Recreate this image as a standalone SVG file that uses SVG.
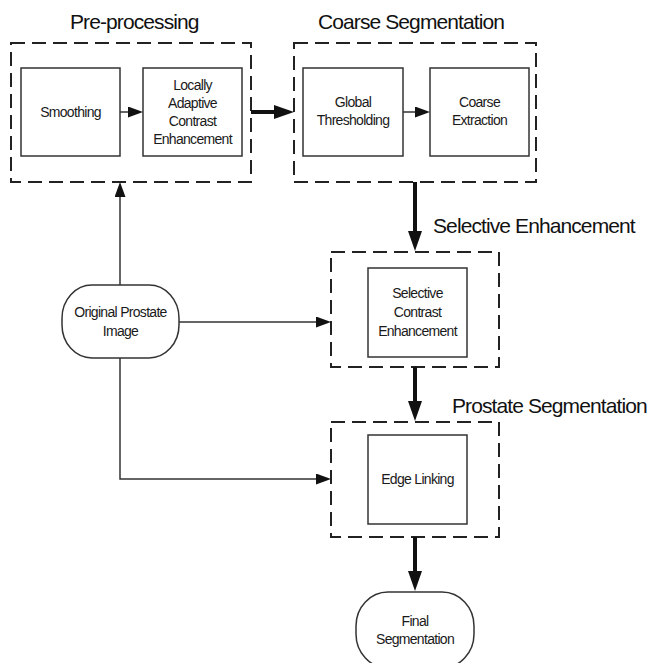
<svg xmlns="http://www.w3.org/2000/svg" width="652" height="663" viewBox="0 0 652 663">
<style>
.bg{fill:#ffffff}
.dash{fill:none;stroke:#222;stroke-width:2;stroke-dasharray:14 7}
.box{fill:#fff;stroke:#333;stroke-width:1.5}
.term{fill:#fff;stroke:#333;stroke-width:1.5}
.t{font-family:"Liberation Sans",Arial,sans-serif;font-size:14px;fill:#1a1a1a;text-anchor:middle;letter-spacing:-0.7px}
.title{font-family:"Liberation Sans",Arial,sans-serif;font-size:21px;fill:#111;letter-spacing:-0.9px}
.thin{fill:none;stroke:#333;stroke-width:1.5}
.thick{fill:none;stroke:#111;stroke-width:4}
</style>
<defs>
<marker id="ah" markerUnits="userSpaceOnUse" markerWidth="15" markerHeight="11" refX="7" refY="5.5" orient="auto">
<path d="M0,0 L15,5.5 L0,11 z" fill="#111"/>
</marker>
<marker id="ahb" markerUnits="userSpaceOnUse" markerWidth="20" markerHeight="14" refX="10" refY="7" orient="auto">
<path d="M0,0 L20,7 L0,14 z" fill="#111"/>
</marker>
</defs>
<rect class="bg" x="0" y="0" width="652" height="663"/>

<g id="preprocessing">
<rect class="dash" x="11" y="43" width="240" height="139"/>
<text class="title" x="70" y="29">Pre-processing</text>
</g>
<g id="smoothing">
<rect class="box" x="21" y="68" width="99" height="88"/>
<text class="t" x="70.5" y="117">Smoothing</text>
</g>
<g id="lace">
<rect class="box" x="143" y="68" width="99" height="88"/>
<text class="t" x="192.5" y="90">Locally</text>
<text class="t" x="192.5" y="108">Adaptive</text>
<text class="t" x="192.5" y="126">Contrast</text>
<text class="t" x="192.5" y="144">Enhancement</text>
</g>

<g id="coarse-segmentation">
<rect class="dash" x="294" y="43" width="242" height="139"/>
<text class="title" x="318" y="29">Coarse Segmentation</text>
</g>
<g id="global-thresholding">
<rect class="box" x="303" y="68" width="100" height="88"/>
<text class="t" x="353" y="107">Global</text>
<text class="t" x="353" y="125">Thresholding</text>
</g>
<g id="coarse-extraction">
<rect class="box" x="430" y="68" width="99" height="88"/>
<text class="t" x="479.5" y="107">Coarse</text>
<text class="t" x="479.5" y="125">Extraction</text>
</g>

<g id="selective-enhancement">
<rect class="dash" x="331" y="252" width="168" height="115"/>
<text class="title" x="433" y="233">Selective Enhancement</text>
</g>
<g id="selective-contrast">
<rect class="box" x="368" y="268" width="99" height="89"/>
<text class="t" x="417.5" y="298">Selective</text>
<text class="t" x="417.5" y="317">Contrast</text>
<text class="t" x="417.5" y="336">Enhancement</text>
</g>

<g id="prostate-segmentation">
<rect class="dash" x="331" y="422" width="168" height="115"/>
<text class="title" x="452" y="413">Prostate Segmentation</text>
</g>
<g id="edge-linking">
<rect class="box" x="368" y="435" width="99" height="89"/>
<text class="t" x="417.5" y="484">Edge Linking</text>
</g>

<g id="original-image">
<rect class="term" x="62" y="285" width="117" height="73" rx="30" ry="33"/>
<text class="t" x="120.5" y="317">Original Prostate</text>
<text class="t" x="120.5" y="336">Image</text>
</g>

<g id="final-segmentation">
<rect class="term" x="356" y="592" width="118" height="76" rx="32" ry="34"/>
<text class="t" x="415" y="626">Final</text>
<text class="t" x="415" y="644">Segmentation</text>
</g>

<g id="connectors">
<line class="thin" x1="120" y1="112" x2="135" y2="112" marker-end="url(#ah)"/>
<line class="thin" x1="403" y1="112" x2="422" y2="112" marker-end="url(#ah)"/>
<line class="thick" x1="251" y1="112" x2="284" y2="112" marker-end="url(#ahb)"/>
<line class="thin" x1="120" y1="285" x2="120" y2="190" marker-end="url(#ah)"/>
<line class="thin" x1="179" y1="322" x2="323" y2="322" marker-end="url(#ah)"/>
<polyline class="thin" points="120,358 120,479 323,479" marker-end="url(#ah)"/>
<line class="thick" x1="415" y1="182" x2="415" y2="241" marker-end="url(#ahb)"/>
<line class="thick" x1="415" y1="367" x2="415" y2="411" marker-end="url(#ahb)"/>
<line class="thick" x1="415" y1="537" x2="415" y2="581" marker-end="url(#ahb)"/>
</g>
</svg>
